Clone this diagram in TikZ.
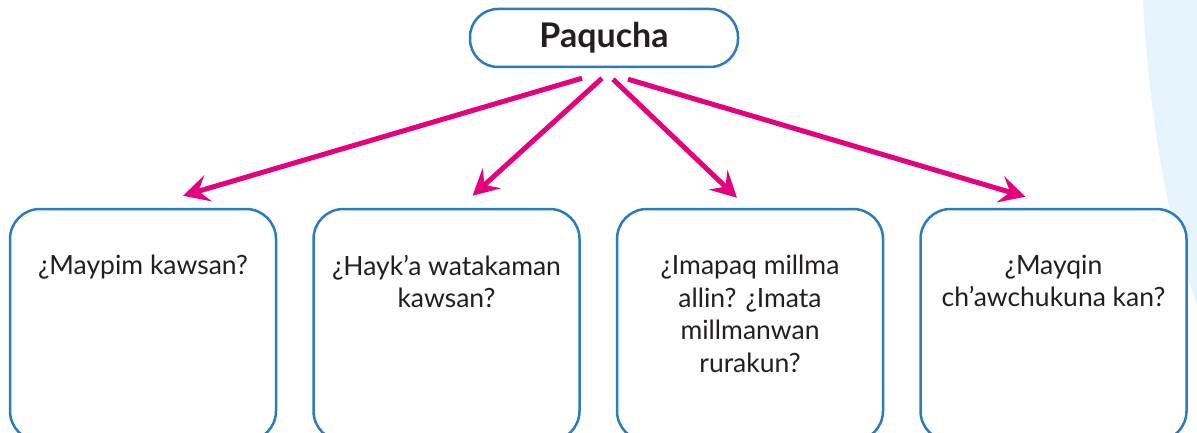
\documentclass[tikz,border=0pt]{standalone}
\usepackage{fontspec}
\setmainfont{Lato}
\usepackage{tikz}
\usetikzlibrary{positioning}
\usetikzlibrary{arrows.meta}
\definecolor{boxblue}{HTML}{2B7BC0}
\definecolor{arrowpink}{HTML}{E5007D}
\definecolor{txtgray}{HTML}{231F20}
\definecolor{bgblue}{HTML}{E6F5FB}

\begin{document}
\begin{tikzpicture}[
  x=1pt, y=-1pt,
  topnode/.style={draw=boxblue,line width=2.5pt,rounded corners=28pt,minimum width=268pt,minimum height=58pt,text=txtgray,font=\bfseries\fontsize{34}{40}\selectfont},
  boxnode/.style={draw=boxblue,line width=2.5pt,fill=white,rounded corners=30pt,minimum width=266pt,minimum height=232pt},
  qnode/.style={align=center,inner sep=0pt,text=txtgray,font=\fontsize{26.5}{32.7}\selectfont},
  pinkarrow/.style={draw=arrowpink,line width=5pt,-{Stealth[length=26pt,width=27pt,inset=10pt]}}
]

\useasboundingbox (0,0) rectangle (1197,433);
\fill[bgblue] (1143,0) .. controls (1150,130) and (1170,230) .. (1197,305) -- (1197,0) -- cycle;

\node[topnode] (10) at (604,38) {Paqucha};

\node[boxnode] (21) at (143,325) {};
\node[boxnode, right=35pt of 21] (22) {};
\node[boxnode, right=35pt of 22] (23) {};
\node[boxnode, right=35pt of 23] (24) {};

\node[qnode, below=47pt of 21.north] (31) {¿Maypim kawsan?};
\node[qnode, below=47pt of 22.north] (32) {¿Hayk’a watakaman\\kawsan?};
\node[qnode, below=47pt of 23.north] (33) {¿Imapaq millma\\allin? ¿Imata\\millmanwan\\rurakun?};
\node[qnode, below=47pt of 24.north] (34) {¿Mayqin\\ch’awchukuna kan?};

\path ([xshift=-22pt,yshift=-10pt]10.south) edge[pinkarrow] ([xshift=40pt,yshift=12pt]21.north)
([xshift=-2pt,yshift=-10pt]10.south) edge[pinkarrow] ([xshift=26pt,yshift=12pt]22.north)
([xshift=9pt,yshift=-11pt]10.south) edge[pinkarrow] ([xshift=-13pt,yshift=10pt]23.north)
([xshift=24pt,yshift=-11pt]10.south) edge[pinkarrow] ([xshift=-28pt,yshift=11pt]24.north)
;

\end{tikzpicture}
\end{document}
